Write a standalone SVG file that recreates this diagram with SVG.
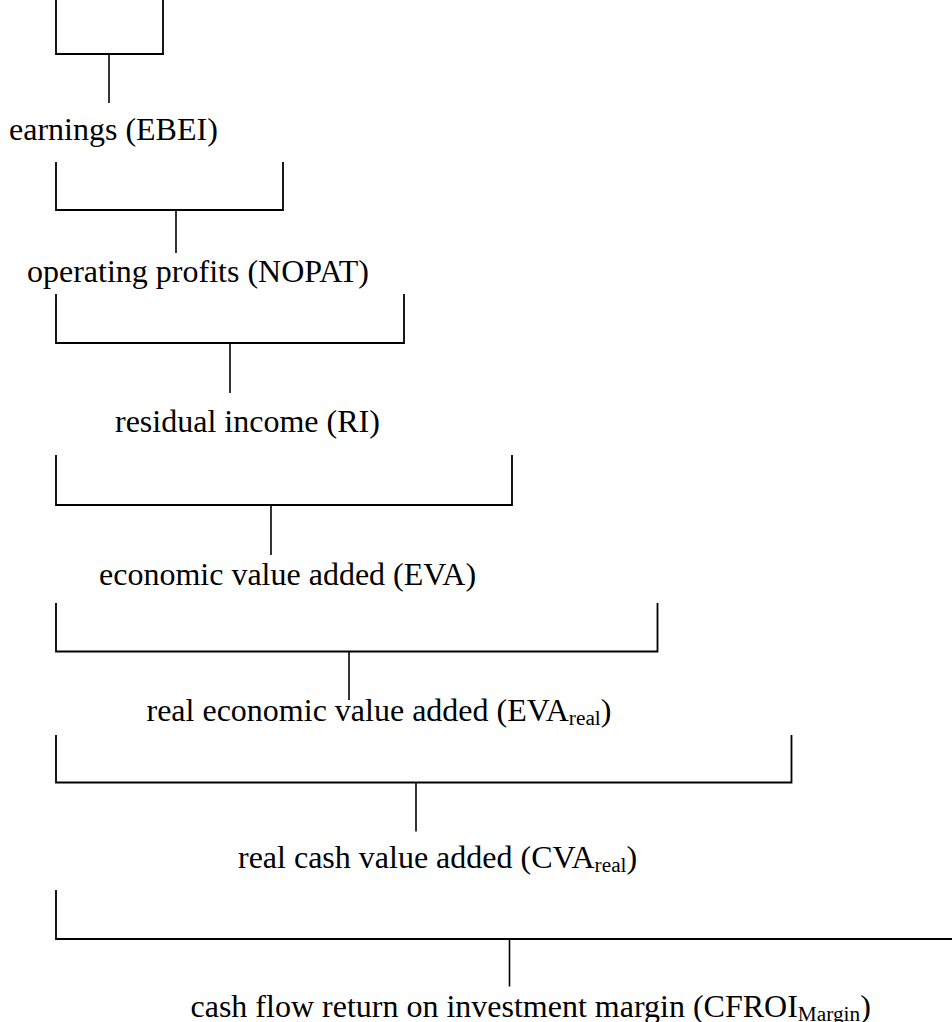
<svg xmlns="http://www.w3.org/2000/svg" width="952" height="1022" viewBox="0 0 952 1022">
<style>
.lbl{font-family:"Liberation Serif","Times New Roman",serif;font-size:32px;fill:#000}
.sub{font-size:21.3px}
.br{fill:none;stroke:#000;stroke-width:1.8}
.st{fill:none;stroke:#000;stroke-width:1.6}
</style>
<rect width="952" height="1022" fill="#fff"/>
<g id="connectors">
<path class="br" d="M56,0V54H163V0"/>
<path class="st" d="M109,54V103"/>
<path class="br" d="M56,162V210H283V162"/>
<path class="st" d="M176,210V253"/>
<path class="br" d="M56,294V343H404V294"/>
<path class="st" d="M230,343V393"/>
<path class="br" d="M56,455V505H512V455"/>
<path class="st" d="M271,505V555"/>
<path class="br" d="M56,603V651.5H657.5V603"/>
<path class="st" d="M349,651.5V700"/>
<path class="br" d="M56,735V782.5H791.5V735"/>
<path class="st" d="M416,782.5V831.5"/>
<path class="br" d="M56,890V939H952"/>
<path class="st" d="M509.5,939V986.5"/>
</g>
<g id="ebei"><text class="lbl" x="9" y="139.5">earnings (EBEI)</text></g>
<g id="nopat"><text class="lbl" x="27" y="282">operating profits (NOPAT)</text></g>
<g id="ri"><text class="lbl" x="115" y="432">residual income (RI)</text></g>
<g id="eva"><text class="lbl" x="99" y="584.5">economic value added (EVA)</text></g>
<g id="eva-real"><text class="lbl" x="146.5" y="721">real economic value added (EVA<tspan class="sub" dy="4">real</tspan><tspan dy="-4">)</tspan></text></g>
<g id="cva-real"><text class="lbl" x="238" y="868">real cash value added (CVA<tspan class="sub" dy="4">real</tspan><tspan dy="-4">)</tspan></text></g>
<g id="cfroi"><text class="lbl" x="190.5" y="1016.5">cash flow return on investment margin (CFROI<tspan class="sub" dy="4">Margin</tspan><tspan dy="-4">)</tspan></text></g>
</svg>
